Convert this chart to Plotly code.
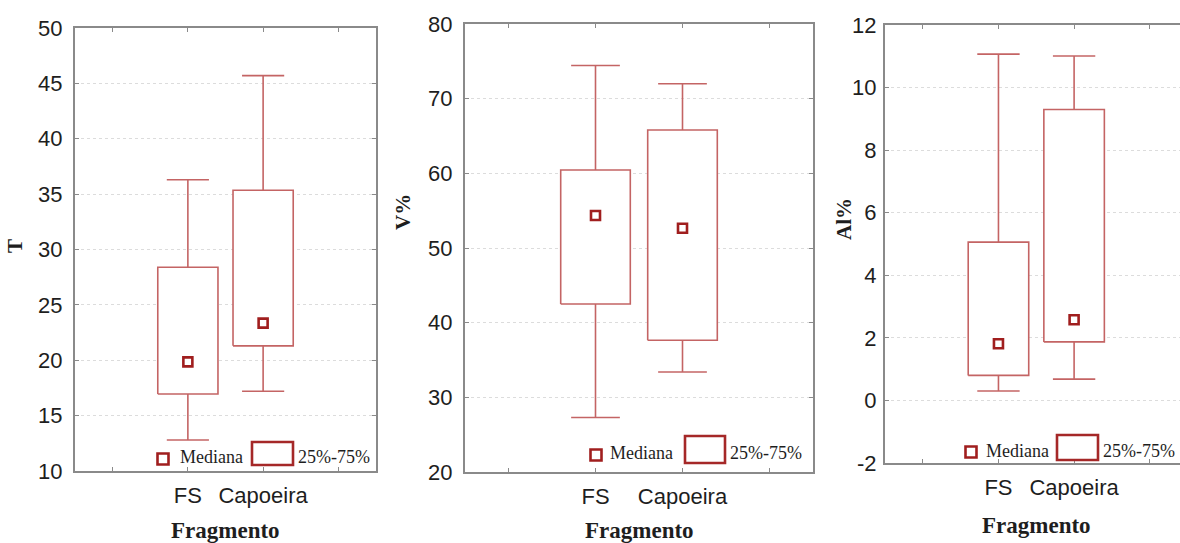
import plotly.graph_objects as go

W, H = 1180, 543

categories = ["FS", "Capoeira"]
cat_pos = [1.5, 2.5]

# T
t_low = [12.8, 17.2]
t_q1 = [16.95, 21.3]
t_med = [19.85, 23.35]
t_q3 = [28.4, 35.35]
t_high = [36.3, 45.7]

# V%
v_low = [27.3, 33.4]
v_q1 = [42.5, 37.65]
v_med = [54.35, 52.65]
v_q3 = [60.45, 65.8]
v_high = [74.45, 72.0]

# Al%
al_low = [0.3, 0.68]
al_q1 = [0.8, 1.87]
al_med = [1.81, 2.58]
al_q3 = [5.06, 9.3]
al_high = [11.07, 11.01]

# y tick values / labels per panel
t_ticks = [10, 15, 20, 25, 30, 35, 40, 45, 50]
v_ticks = [20, 30, 40, 50, 60, 70, 80]
al_ticks = [-2, 0, 2, 4, 6, 8, 10, 12]
al_ticktext = ["-2", "0", "2", "4", "6", "8", "10", "12"]

y_titles = ["T", "V%", "Al%"]
x_title = "Fragmento"
legend_labels = ["Mediana", "25%-75%"]

BOX_COLOR = "rgb(196,100,100)"
MED_COLOR = "rgb(160,30,30)"
AXIS_COLOR = "#8a8a8a"
GRID_COLOR = "#dcdcdc"
TXT = "#1e1e1e"
SERIF = "Liberation Serif, Times New Roman, serif"
SANS = "Liberation Sans, Arial, sans-serif"

BOX_HW = 0.40   # half width of box (data units)
CAP_HW = 0.28   # half width of whisker cap

fig = go.Figure()

panels = [
    (t_low, t_q1, t_med, t_q3, t_high, "x", "y"),
    (v_low, v_q1, v_med, v_q3, v_high, "x2", "y2"),
    (al_low, al_q1, al_med, al_q3, al_high, "x3", "y3"),
]

for lo, q1, med, q3, hi, xa, ya in panels:
    for i, c in enumerate(cat_pos):
        # whiskers
        fig.add_trace(go.Scatter(
            x=[c, c, None, c - CAP_HW, c + CAP_HW, None, c, c, None, c - CAP_HW, c + CAP_HW],
            y=[q3[i], hi[i], None, hi[i], hi[i], None, q1[i], lo[i], None, lo[i], lo[i]],
            mode="lines", line=dict(color=BOX_COLOR, width=1.6),
            xaxis=xa, yaxis=ya, showlegend=False, hoverinfo="skip"))
        # box
        fig.add_trace(go.Scatter(
            x=[c - BOX_HW, c + BOX_HW, c + BOX_HW, c - BOX_HW, c - BOX_HW],
            y=[q1[i], q1[i], q3[i], q3[i], q1[i]],
            mode="lines", fill="toself", fillcolor="white",
            line=dict(color=BOX_COLOR, width=1.6),
            xaxis=xa, yaxis=ya, showlegend=False, hoverinfo="skip"))
    # medians
    fig.add_trace(go.Scatter(
        x=cat_pos, y=med, mode="markers",
        marker=dict(symbol="square-open", size=9, color=MED_COLOR, line=dict(width=2.6)),
        xaxis=xa, yaxis=ya, showlegend=False, name="Mediana"))


def px_x(p):
    return p / W


def px_y(p):
    return 1 - p / H


# panel geometry in pixels: (left, right, top, bottom)
geo = [
    (75, 376, 28, 471),
    (465, 813, 24, 472),
    (885, 1180, 25, 463),
]
xranges = [[0, 4], [0, 4], [0, 3.9]]
yranges = [[10, 50], [20, 80], [-2, 12]]
ytickvals = [t_ticks, v_ticks, al_ticks]
yticktexts = [[str(v) for v in t_ticks], [str(v) for v in v_ticks], al_ticktext]
standoffs = [6, 6, 2]

layout = dict(
    width=W, height=H,
    margin=dict(l=0, r=0, t=0, b=0, pad=0, autoexpand=False),
    paper_bgcolor="white", plot_bgcolor="white",
    showlegend=False,
)

for k in range(3):
    l, r, t, b = geo[k]
    sfx = "" if k == 0 else str(k + 1)
    layout["xaxis" + sfx] = dict(
        domain=[px_x(l), px_x(r)], range=xranges[k],
        anchor="y" + sfx, automargin=False,
        tickmode="array", tickvals=[0.5, 1.5, 2.5, 3.5],
        ticktext=["", categories[0], categories[1], ""],
        ticks="inside", ticklen=4, tickwidth=1.2, tickcolor=AXIS_COLOR,
        showline=True, linecolor=AXIS_COLOR, linewidth=2,
        mirror="all", showgrid=False, zeroline=False,
        tickfont=dict(family=SANS, size=22, color=TXT),
        ticklabelstandoff=4, fixedrange=True,
    )
    layout["yaxis" + sfx] = dict(
        domain=[px_y(b), px_y(t)], range=yranges[k],
        anchor="x" + sfx, automargin=False,
        tickmode="array", tickvals=ytickvals[k], ticktext=yticktexts[k],
        ticks="inside", ticklen=4, tickwidth=1.2, tickcolor=AXIS_COLOR,
        showline=True, linecolor=AXIS_COLOR, linewidth=2,
        mirror="all" if k < 2 else False,
        showgrid=True, gridcolor=GRID_COLOR, griddash="dot", gridwidth=1,
        zeroline=False,
        tickfont=dict(family=SANS, size=22, color=TXT),
        ticklabelstandoff=standoffs[k], fixedrange=True,
    )

fig.update_layout(**layout)

# axis titles
ytitle_pos = [(15, 246), (403, 212), (844, 219)]
xtitle_pos = [(225, 530), (639, 530), (1036, 525)]
for k in range(3):
    xp, yp = ytitle_pos[k]
    fig.add_annotation(x=px_x(xp), y=px_y(yp), xref="paper", yref="paper",
                       text="<b>%s</b>" % y_titles[k], textangle=-90, showarrow=False,
                       xanchor="center", yanchor="middle",
                       font=dict(family=SERIF, size=21, color=TXT))
    xp, yp = xtitle_pos[k]
    fig.add_annotation(x=px_x(xp), y=px_y(yp), xref="paper", yref="paper",
                       text="<b>%s</b>" % x_title, showarrow=False,
                       xanchor="center", yanchor="middle",
                       font=dict(family=SERIF, size=23, color=TXT))

# in-plot legends (median square + box sample)
legend_geo = [
    # square center, mediana text left, text y, rect (x0,y0,x1,y1), pct text left
    ((163, 459), 178, 457, (252, 442, 293, 465), 296),
    ((596, 455), 608, 453, (685, 436, 725, 463), 728),
    ((971, 452), 984, 451, (1057, 435, 1098, 460), 1101),
]
for (sq, mtx, ty, rect, ptx) in legend_geo:
    sx, sy = sq
    s = 5.5
    fig.add_shape(type="rect", xref="paper", yref="paper",
                  x0=px_x(sx - s), x1=px_x(sx + s), y0=px_y(sy + s), y1=px_y(sy - s),
                  line=dict(color=MED_COLOR, width=2.6), fillcolor="rgba(0,0,0,0)")
    fig.add_annotation(x=px_x(mtx), y=px_y(ty), xref="paper", yref="paper",
                       text=legend_labels[0], showarrow=False,
                       xanchor="left", yanchor="middle",
                       font=dict(family=SERIF, size=18, color=TXT))
    x0, y0, x1, y1 = rect
    fig.add_shape(type="rect", xref="paper", yref="paper",
                  x0=px_x(x0), x1=px_x(x1), y0=px_y(y1), y1=px_y(y0),
                  line=dict(color="rgb(165,40,40)", width=2.6), fillcolor="white")
    fig.add_annotation(x=px_x(ptx), y=px_y(ty), xref="paper", yref="paper",
                       text=legend_labels[1], showarrow=False,
                       xanchor="left", yanchor="middle",
                       font=dict(family=SERIF, size=18, color=TXT))

fig.write_html("out.html", config={"displayModeBar": False})
